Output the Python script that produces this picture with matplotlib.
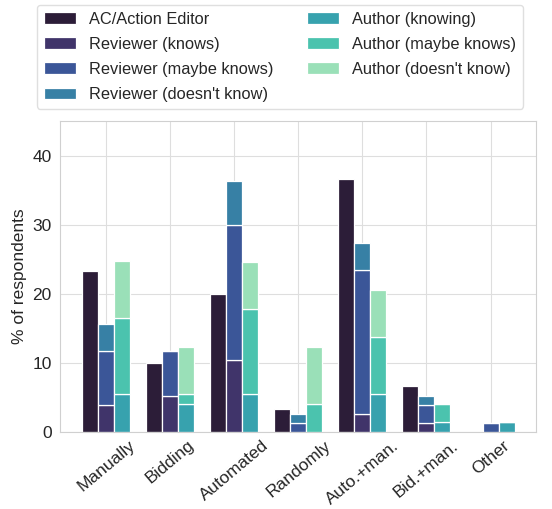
import numpy as np
import matplotlib
matplotlib.use("Agg")
import matplotlib.pyplot as plt
import seaborn as sns

categories = ["Manually", "Bidding", "Automated", "Randomly",
              "Auto.+man.", "Bid.+man.", "Other"]

# % of respondents, segment heights (stack order bottom -> top)
ac_editor = [23.3, 10.0, 20.0, 3.3, 36.7, 6.7, 0.0]

reviewer_knows = [3.9, 5.2, 10.4, 0.0, 2.6, 1.3, 0.0]
reviewer_maybe = [7.8, 6.5, 19.5, 1.3, 20.8, 2.6, 1.3]
reviewer_doesnt = [3.9, 0.0, 6.5, 1.3, 3.9, 1.3, 0.0]

author_knowing = [5.5, 4.1, 5.5, 0.0, 5.5, 1.4, 1.4]
author_maybe = [11.0, 1.4, 12.3, 4.1, 8.2, 2.7, 0.0]
author_doesnt = [8.2, 6.8, 6.8, 8.2, 6.8, 0.0, 0.0]

colors = {
    "AC/Action Editor": "#2c1d38",
    "Reviewer (knows)": "#40346a",
    "Reviewer (maybe knows)": "#3b5698",
    "Reviewer (doesn't know)": "#3780a5",
    "Author (knowing)": "#37a2ae",
    "Author (maybe knows)": "#4bc3ae",
    "Author (doesn't know)": "#9ae0b8",
}

sns.set_style("whitegrid", {"axes.edgecolor": "#d0d0d0", "grid.color": "#dedede"})
plt.rcParams["font.family"] = ["Liberation Sans", "DejaVu Sans"]

fig = plt.figure(figsize=(5.52, 5.09), dpi=100)
ax = fig.add_axes([0.109, 0.151, 0.862, 0.611])

x = np.arange(len(categories))
w = 0.25
kw = dict(width=w, edgecolor="white", linewidth=0.9)

ax.bar(x - w, ac_editor, color=colors["AC/Action Editor"], label="AC/Action Editor", **kw)

bottom = np.zeros(len(x))
for name, vals in [("Reviewer (knows)", reviewer_knows),
                   ("Reviewer (maybe knows)", reviewer_maybe),
                   ("Reviewer (doesn't know)", reviewer_doesnt)]:
    ax.bar(x, vals, bottom=bottom, color=colors[name], label=name, **kw)
    bottom += np.array(vals)

bottom = np.zeros(len(x))
for name, vals in [("Author (knowing)", author_knowing),
                   ("Author (maybe knows)", author_maybe),
                   ("Author (doesn't know)", author_doesnt)]:
    ax.bar(x + w, vals, bottom=bottom, color=colors[name], label=name, **kw)
    bottom += np.array(vals)

ax.set_xlim(-0.72, 6.71)
ax.set_ylim(0, 45)
ax.set_yticks([0, 10, 20, 30, 40])
ax.set_xticks(x)
ax.set_xticklabels(categories, rotation=40, ha="center")
ax.tick_params(axis="both", labelsize=12.5, colors="#262626", length=0)
ax.tick_params(axis="y", pad=6)
ax.tick_params(axis="x", pad=4)
ax.set_ylabel("% of respondents", fontsize=12.5, color="#262626")
ax.set_axisbelow(True)

handles, labels = ax.get_legend_handles_labels()
fig.legend(handles, labels, ncol=2, fontsize=11.8, loc="upper left",
           bbox_to_anchor=(37 / 552, 1 - 5 / 509), borderaxespad=0,
           frameon=True, edgecolor="#d8d8d8",
           labelspacing=0.62, columnspacing=2.0, handlelength=2.0)

fig.savefig("out.png", dpi=100)
